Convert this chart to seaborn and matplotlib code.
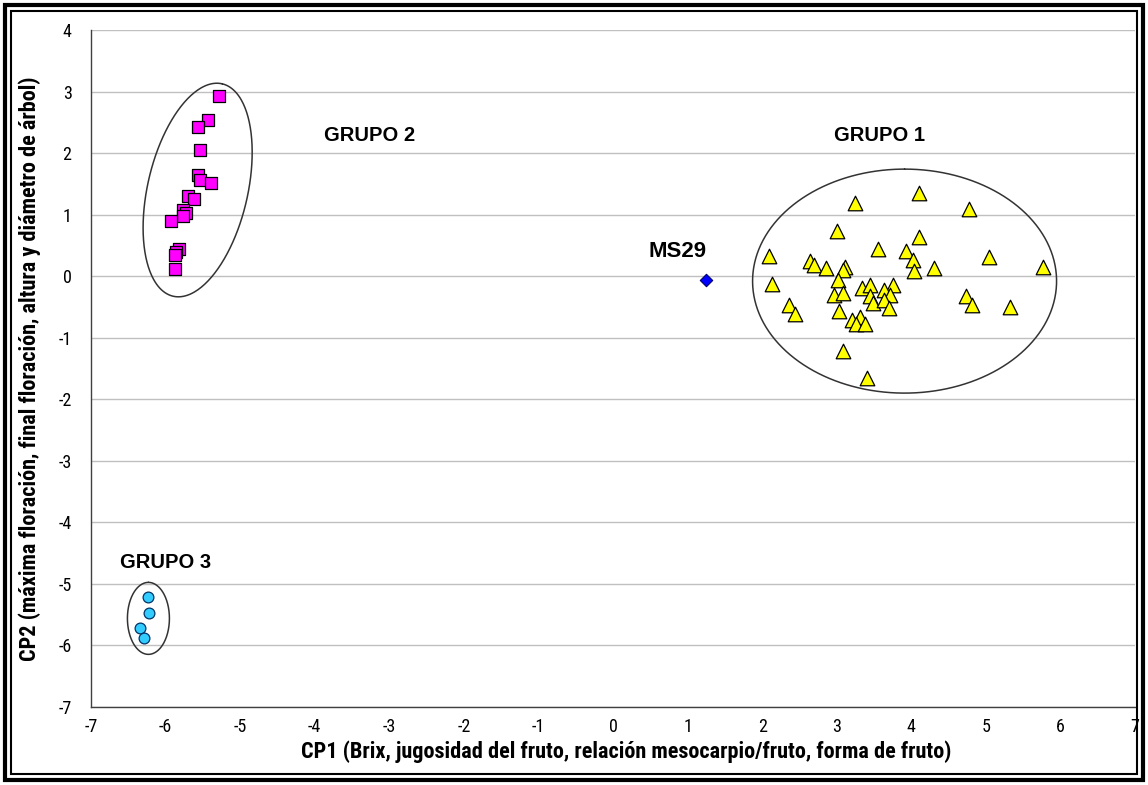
import numpy as np
import pandas as pd
import matplotlib
matplotlib.use('Agg')
import matplotlib.pyplot as plt
import seaborn as sns
from matplotlib.patches import Rectangle
from matplotlib import font_manager

# Group 1 (triangles)
g1_x = [4.11, 3.25, 3.01, 4.10, 2.09, 3.55, 3.93, 4.02, 2.64, 2.69, 2.86, 4.30,
        3.11, 3.09, 4.04, 2.13, 3.02, 3.34, 3.45, 3.75, 3.63, 2.96, 3.08, 3.44,
        3.71, 3.49, 3.63, 2.36, 2.44, 3.03, 3.70, 3.20, 3.31, 3.26, 3.38, 3.08,
        3.41, 4.78, 5.04, 5.77, 4.74, 4.81, 5.32]
g1_y = [1.35, 1.19, 0.74, 0.64, 0.33, 0.44, 0.41, 0.27, 0.25, 0.18, 0.14, 0.14,
        0.15, 0.10, 0.09, -0.12, -0.06, -0.19, -0.14, -0.14, -0.22, -0.31, -0.28, -0.32,
        -0.31, -0.44, -0.39, -0.47, -0.61, -0.56, -0.51, -0.72, -0.66, -0.78, -0.78, -1.22,
        -1.66, 1.09, 0.31, 0.15, -0.32, -0.47, -0.50]

# Group 2 (squares)
g2_x = [-5.29, -5.43, -5.56, -5.54, -5.56, -5.54, -5.39, -5.70, -5.62, -5.76,
        -5.72, -5.77, -5.93, -5.82, -5.86, -5.88, -5.88]
g2_y = [2.92, 2.53, 2.42, 2.05, 1.64, 1.56, 1.51, 1.30, 1.25, 1.08,
        1.03, 0.97, 0.89, 0.44, 0.40, 0.34, 0.11]

# Group 3 (circles)
g3_x = [-6.23, -6.22, -6.34, -6.29]
g3_y = [-5.21, -5.48, -5.72, -5.88]

# MS29
ms_x = [1.25]
ms_y = [-0.06]

sns.set_style('white')
plt.rcParams['font.family'] = ['Liberation Sans', 'DejaVu Sans']
plt.rcParams['axes.unicode_minus'] = False
plt.rcParams['text.color'] = 'black'
plt.rcParams['axes.labelcolor'] = 'black'
plt.rcParams['xtick.labelcolor'] = 'black'
plt.rcParams['ytick.labelcolor'] = 'black'

# the axis texts in the original are narrow; use a narrow face when there is one
names = {f.name for f in font_manager.fontManager.ttflist}
narrow = [n for n in ['Liberation Sans Narrow', 'Roboto Condensed', 'DejaVu Sans Condensed',
                      'Open Sans Condensed', 'Arial Narrow'] if n in names]
if narrow:
    axis_font = [narrow[0], 'Liberation Sans']
    tick_size, xlab_size, ylab_size = 13, 16, 16
else:
    axis_font = ['Liberation Sans', 'DejaVu Sans']
    tick_size, xlab_size, ylab_size = 12, 14.5, 13.5

fig = plt.figure(figsize=(11.48, 7.85), dpi=100)
ax = fig.add_axes([91 / 1148, 1 - 707 / 785, (1135 - 91) / 1148, (707 - 30) / 785])

sns.scatterplot(x=g1_x, y=g1_y, marker='^', s=110, color='#FFFF00',
                edgecolor='black', linewidth=0.9, ax=ax, zorder=3)
sns.scatterplot(x=g2_x, y=g2_y, marker='s', s=75, color='#FF00FF',
                edgecolor='black', linewidth=0.9, ax=ax, zorder=3)
sns.scatterplot(x=g3_x, y=g3_y, marker='o', s=60, color='#33CCFF',
                edgecolor='#003366', linewidth=0.9, ax=ax, zorder=3)
sns.scatterplot(x=ms_x, y=ms_y, marker='D', s=40, color='#0000FF',
                edgecolor='#000066', linewidth=0.8, ax=ax, zorder=3)

ax.set_xlim(-7, 7)
ax.set_ylim(-7, 4)
ax.set_xticks(range(-7, 8))
ax.set_yticks(range(-7, 5))
ax.yaxis.grid(True, color='#c0c0c0', linewidth=1.0)
ax.xaxis.grid(False)
ax.set_axisbelow(True)
for side in ['top', 'right']:
    ax.spines[side].set_visible(False)
for side in ['left', 'bottom']:
    ax.spines[side].set_color('#404040')
    ax.spines[side].set_linewidth(1.0)
ax.tick_params(axis='both', direction='out', length=5, width=1, color='#404040')
ax.tick_params(axis='x', pad=3)
ax.tick_params(axis='y', pad=9)
for lab in ax.get_xticklabels() + ax.get_yticklabels():
    lab.set_family(axis_font)
    lab.set_fontsize(tick_size)

ax.set_xlabel('CP1 (Brix, jugosidad del fruto, relación mesocarpio/fruto, forma de fruto)',
              family=axis_font, fontsize=xlab_size, fontweight='bold')
ax.set_ylabel('CP2 (máxima floración, final floración, altura y diámetro de árbol)',
              family=axis_font, fontsize=ylab_size, fontweight='bold')
ax.xaxis.set_label_coords(0.513, -0.049)
ax.yaxis.set_label_coords(-0.048, 0.5)


# ellipses drawn with radii in pixels around a data-space centre
def ellipse(cx, cy, a, b, tilt):
    t = np.linspace(0, 2 * np.pi, 300)
    th = np.deg2rad(tilt)
    px, py = ax.transData.transform((cx, cy))
    dx = a * np.sin(th) * np.cos(t) + b * np.cos(th) * np.sin(t)
    dy = a * np.cos(th) * np.cos(t) - b * np.sin(th) * np.sin(t)
    pts = ax.transData.inverted().transform(np.column_stack([px + dx, py + dy]))
    ax.plot(pts[:, 0], pts[:, 1], color='#333333', linewidth=1.1, zorder=2)


ellipse(-5.57, 1.40, 109, 50, 13)
ellipse(3.91, -0.08, 112, 152, 0)
ellipse(-6.23, -5.56, 36, 21, 0)

lbl = dict(fontsize=14.5, fontweight='bold', ha='center', va='center')
ax.text(-3.26, 2.28, 'GRUPO 2', **lbl)
ax.text(3.58, 2.28, 'GRUPO 1', **lbl)
ax.text(-6.0, -4.66, 'GRUPO 3', **lbl)
ax.text(0.86, 0.40, 'MS29', fontsize=16, fontweight='bold', ha='center', va='center')

# double border around the picture
fig.patches.append(Rectangle((5 / 1148, 5 / 785), 1 - 10 / 1148, 1 - 10 / 785,
                             transform=fig.transFigure, fill=False,
                             edgecolor='black', linewidth=3.0))
fig.patches.append(Rectangle((11 / 1148, 11 / 785), 1 - 22 / 1148, 1 - 22 / 785,
                             transform=fig.transFigure, fill=False,
                             edgecolor='black', linewidth=1.5))

fig.savefig('out.png', dpi=100)
